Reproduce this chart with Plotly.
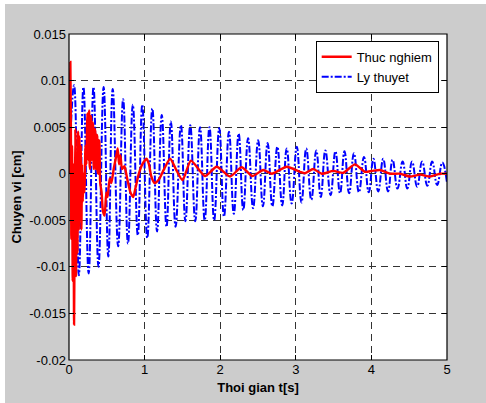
import plotly.graph_objects as go

# ---------------- data ----------------
# "Ly thuyet" (theory) – times and values of successive peaks and troughs
blue_peak_t = [0.067, 0.191, 0.324, 0.458, 0.578, 0.716, 0.844, 0.969, 1.102, 1.227,
               1.347, 1.480, 1.604, 1.733, 1.858, 1.987, 2.116, 2.244, 2.369, 2.502,
               2.627, 2.756, 2.880, 3.013, 3.138, 3.271, 3.391, 3.524, 3.644, 3.769,
               3.902, 4.027, 4.156, 4.280, 4.413, 4.538, 4.671, 4.804, 4.938]
blue_peak_v = [0.0095, 0.0093, 0.0093, 0.0093, 0.0091, 0.0080, 0.0074, 0.0074, 0.0070, 0.0063,
               0.0056, 0.0052, 0.0052, 0.0050, 0.0050, 0.0049, 0.0045, 0.0043, 0.0038, 0.0036,
               0.0033, 0.0029, 0.0027, 0.0029, 0.0027, 0.0025, 0.0025, 0.0024, 0.0024, 0.0022,
               0.0018, 0.0016, 0.0016, 0.0015, 0.0013, 0.0013, 0.0013, 0.0013, 0.0012]
blue_trough_t = [0.130, 0.260, 0.390, 0.520, 0.650, 0.780, 0.910, 1.035, 1.165, 1.290,
                 1.410, 1.540, 1.670, 1.795, 1.920, 2.050, 2.180, 2.305, 2.435, 2.565,
                 2.690, 2.820, 2.945, 3.075, 3.205, 3.330, 3.460, 3.585, 3.705, 3.835,
                 3.965, 4.090, 4.220, 4.345, 4.475, 4.605, 4.740, 4.870, 5.000]
blue_trough_v = [-0.0109, -0.0107, -0.0100, -0.0089, -0.0078, -0.0075, -0.0066, -0.0069, -0.0062, -0.0057,
                 -0.0057, -0.0051, -0.0051, -0.0050, -0.0050, -0.0046, -0.0043, -0.0039, -0.0037, -0.0035,
                 -0.0035, -0.0034, -0.0032, -0.0031, -0.0028, -0.0025, -0.0023, -0.0021, -0.0021, -0.0020,
                 -0.0020, -0.0019, -0.0019, -0.0016, -0.0016, -0.0014, -0.0013, -0.0012, -0.0010]

# "Thuc nghiem" (experiment)
red_t = [0.000, 0.009, 0.018, 0.027, 0.031, 0.040, 0.049, 0.058, 0.067, 0.076,
         0.084, 0.093, 0.102, 0.111, 0.120, 0.129, 0.138, 0.147, 0.156, 0.164,
         0.173, 0.182, 0.191, 0.204, 0.218, 0.231, 0.238, 0.244, 0.251, 0.258,
         0.263, 0.267, 0.273, 0.280, 0.286, 0.293, 0.300, 0.307, 0.313, 0.320,
         0.327, 0.333, 0.340, 0.347, 0.353, 0.360, 0.367, 0.373, 0.380, 0.387,
         0.393, 0.400, 0.413,
         0.431, 0.449, 0.471, 0.493, 0.511, 0.538, 0.560, 0.591, 0.627, 0.644,
         0.662, 0.680, 0.702, 0.733, 0.769, 0.813, 0.849, 0.880, 0.924, 0.969,
         1.027, 1.058, 1.089, 1.133, 1.191, 1.258, 1.338, 1.413, 1.502, 1.613,
         1.799, 1.954, 2.130, 2.284, 2.425, 2.570, 2.681, 2.880, 3.056, 3.122,
         3.231, 3.343, 3.496, 3.628, 3.783, 3.915, 4.008, 4.114, 4.246, 4.378,
         4.511, 4.643, 4.775, 4.907, 5.000]
red_v = [0.0, 0.004, 0.012, 0.002, -0.007, 0.003, -0.0115, 0.001, -0.0162, -0.004,
         0.0048, -0.011, 0.002, -0.0085, 0.0045, -0.006, 0.004, -0.005, 0.003, -0.006,
         0.001, -0.003, 0.0, -0.002, 0.003, 0.001, 0.005, 0.0065, 0.002, 0.0015,
         0.006, 0.0068, 0.001, 0.0005, 0.0062, 0.006, 0.0015, 0.002, 0.0055, 0.005,
         0.0008, 0.0005, 0.0048, 0.0045, 0.0005, 0.001, 0.0042, 0.004, 0.0002, 0.0,
         0.0036, 0.0035, -0.001,
         -0.002, -0.004, -0.0045, -0.002, -0.0025, -0.0005, -0.001, 0.0005, 0.002, 0.0027,
         0.001, 0.002, 0.0005, 0.0008, -0.0005, -0.002, -0.0025, -0.0015, 0.0, 0.001,
         0.0016, 0.001, -0.0003, -0.001, -0.0006, 0.0005, 0.0016, 0.0005, -0.0007, 0.0014,
         -0.00025, 0.00075, -0.0003, 0.0007, -0.00025, 0.0004, 0.0, 0.00075, 0.0002, 0.00005,
         0.0005, 0.0, 0.0003, 0.0001, 0.001, 0.0002, 0.0003, 0.0004, 0.0, 0.0,
         -0.0003, -0.0001, -0.0003, 0.0, 0.0]

x_ticks = [0, 1, 2, 3, 4, 5]
x_ticklabels = ["0", "1", "2", "3", "4", "5"]
y_ticks = [0.015, 0.01, 0.005, 0, -0.005, -0.01, -0.015, -0.02]
y_ticklabels = ["0.015", "0.01", "0.005", "0", "-0.005", "-0.01", "-0.015", "-0.02"]

# interleave extrema of the theory curve
blue_t = [0.0]
blue_v = [0.0]
for pt, pv, tt, tv in zip(blue_peak_t, blue_peak_v, blue_trough_t, blue_trough_v):
    blue_t += [pt, tt]
    blue_v += [pv, tv]

# ---------------- figure ----------------
FONT = "Liberation Sans, Arial, sans-serif"
fig = go.Figure()
fig.add_trace(go.Scatter(
    x=blue_t, y=blue_v, mode="lines", name="Ly thuyet",
    line=dict(color="#0000ff", width=2.0, dash="7px,2px,2px,2px", shape="spline", smoothing=1.3),
))
fig.add_trace(go.Scatter(
    x=red_t, y=red_v, mode="lines", name="Thuc nghiem",
    line=dict(color="#ff0000", width=2.4, shape="spline", smoothing=0.6),
))

L, R, T, B = 69, 447, 34, 360
W, H = 486, 403
pw, ph = R - L, B - T

shapes = [
    # gray figure background (leaving thin white border top/left)
    dict(type="rect", xref="paper", yref="paper", layer="below",
         x0=(5 - L) / pw, x1=(W + 5 - L) / pw, y0=(B - H - 5) / ph, y1=(B - 4) / ph,
         fillcolor="#cccccc", line=dict(width=0)),
    dict(type="rect", xref="paper", yref="paper", layer="below",
         x0=0, x1=1, y0=0, y1=1, fillcolor="white", line=dict(width=0)),
    # axes box
    dict(type="rect", xref="paper", yref="paper", layer="above",
         x0=0, x1=1, y0=0, y1=1, line=dict(color="black", width=1.2)),
]

axis_common = dict(
    showline=False, ticks="inside", ticklen=5, tickwidth=1, tickcolor="black",
    mirror="allticks", showgrid=True, gridcolor="#333333", gridwidth=1,
    griddash="7px,5px", zeroline=False,
    tickfont=dict(family=FONT, size=13, color="black"),
)

fig.update_layout(
    width=W, height=H,
    margin=dict(l=L, r=W - R, t=T, b=H - B),
    paper_bgcolor="white", plot_bgcolor="white",
    shapes=shapes,
    showlegend=True,
    legend=dict(
        x=0.978, y=0.979, xanchor="right", yanchor="top",
        bgcolor="white", bordercolor="black", borderwidth=1,
        font=dict(family=FONT, size=13, color="black"),
        tracegroupgap=0, traceorder="reversed",
    ),
    xaxis=dict(range=[0, 5], tickvals=x_ticks, ticktext=x_ticklabels,
               title=dict(text="<b>Thoi gian t[s]</b>", standoff=6,
                          font=dict(family=FONT, size=13, color="black")),
               **axis_common),
    yaxis=dict(range=[-0.02, 0.015], tickvals=y_ticks, ticktext=y_ticklabels,
               ticklabelstandoff=2,
               title=dict(text="<b>Chuyen vi [cm]</b>", standoff=4,
                          font=dict(family=FONT, size=13, color="black")),
               **axis_common),
)

fig.write_html("out.html")
